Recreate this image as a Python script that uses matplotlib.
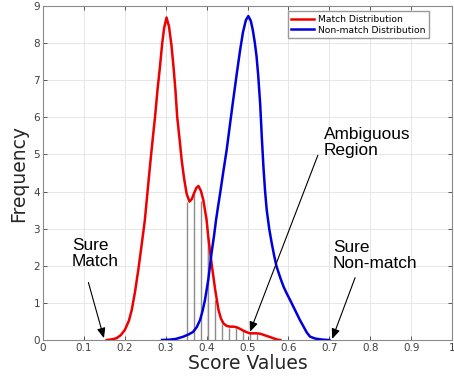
import matplotlib
matplotlib.use("Agg")
import matplotlib.pyplot as plt

# ---------------------------------------------------------------------------
# data
# ---------------------------------------------------------------------------
match_x = [0.156, 0.17, 0.18, 0.19, 0.20, 0.21, 0.217, 0.225, 0.233, 0.241, 0.249,
           0.256, 0.263, 0.269, 0.274, 0.280, 0.286, 0.291, 0.296, 0.302, 0.308,
           0.314, 0.319, 0.324, 0.328, 0.334, 0.339, 0.345, 0.351, 0.358, 0.364,
           0.369, 0.375, 0.380, 0.386, 0.392, 0.396, 0.400, 0.404, 0.412, 0.421,
           0.429, 0.435, 0.441, 0.449, 0.457, 0.466, 0.474, 0.482, 0.490, 0.498,
           0.506, 0.514, 0.522, 0.531, 0.539, 0.547, 0.555, 0.565, 0.573, 0.58]
match_y = [0.0, 0.02, 0.05, 0.13, 0.27, 0.52, 0.81, 1.3, 1.89, 2.55, 3.23,
           4.05, 4.85, 5.5, 6.02, 6.75, 7.37, 7.95, 8.4, 8.69, 8.45,
           7.95, 7.37, 6.7, 6.02, 5.4, 4.85, 4.35, 3.95, 3.73, 3.8,
           3.95, 4.1, 4.15, 4.02, 3.77, 3.5, 3.23, 2.78, 2.07, 1.35,
           0.81, 0.58, 0.45, 0.38, 0.36, 0.36, 0.34, 0.3, 0.25, 0.21,
           0.18, 0.18, 0.18, 0.17, 0.14, 0.11, 0.08, 0.04, 0.01, 0.0]

nonmatch_x = [0.291, 0.31, 0.325, 0.343, 0.356, 0.367, 0.376, 0.384, 0.39, 0.396,
              0.404, 0.412, 0.418, 0.423, 0.428, 0.433, 0.441, 0.449, 0.457,
              0.465, 0.474, 0.482, 0.489, 0.496, 0.502, 0.508, 0.513, 0.518,
              0.522, 0.526, 0.531, 0.535, 0.539, 0.543, 0.547, 0.553, 0.559,
              0.565, 0.571, 0.58, 0.588, 0.596, 0.604, 0.612, 0.62, 0.628,
              0.637, 0.645, 0.653, 0.665, 0.677, 0.69, 0.70]
nonmatch_y = [0.0, 0.01, 0.03, 0.09, 0.15, 0.22, 0.35, 0.54, 0.78, 1.08,
              1.62, 2.34, 2.8, 3.23, 3.6, 3.95, 4.55, 5.12, 5.8,
              6.47, 7.2, 7.82, 8.3, 8.62, 8.73, 8.6, 8.35, 8.0,
              7.65, 7.15, 6.35, 5.45, 4.65, 4.0, 3.5, 3.0, 2.62,
              2.28, 1.98, 1.68, 1.44, 1.25, 1.08, 0.9, 0.72, 0.54,
              0.36, 0.2, 0.09, 0.04, 0.02, 0.005, 0.0]

# vertical hatching under the match curve (ambiguous region)
stem_x = [0.353, 0.370, 0.387, 0.404, 0.421, 0.438, 0.455, 0.472, 0.489, 0.506, 0.523]
stem_y = [3.73, 3.95, 3.75, 2.78, 1.08, 0.43, 0.33, 0.33, 0.27, 0.2, 0.15]

x_ticks = [0, 0.1, 0.2, 0.3, 0.4, 0.5, 0.6, 0.7, 0.8, 0.9, 1]
x_tick_labels = ["0", "0.1", "0.2", "0.3", "0.4", "0.5", "0.6", "0.7", "0.8", "0.9", "1"]
y_ticks = list(range(0, 10))

# (text, text position, arrow tip)
annotations = [
    ("Sure\nMatch", (0.071, 2.75), (0.149, 0.05)),
    ("Ambiguous\nRegion", (0.687, 5.74), (0.506, 0.22)),
    ("Sure\nNon-match", (0.709, 2.7), (0.707, 0.03)),
]
arrow_starts = [(0.111, 1.55), (0.672, 4.98), (0.763, 1.68)]

# ---------------------------------------------------------------------------
fig = plt.figure(figsize=(4.54, 3.78), dpi=100)
ax = fig.add_axes([0.0947, 0.1005, 0.901, 0.8835])

ax.vlines(stem_x, 0, stem_y, color="#8c8c8c", lw=1.0, zorder=2)
ax.plot(match_x, match_y, color="#ee0000", lw=1.8, label="Match Distribution", zorder=3)
ax.plot(nonmatch_x, nonmatch_y, color="#0000dd", lw=1.8, label="Non-match Distribution", zorder=3)

for (txt, pos, tip), start in zip(annotations, arrow_starts):
    ax.text(pos[0], pos[1], txt, ha="left", va="top", fontsize=12.4,
            family="Liberation Sans", color="black", linespacing=1.12)
    ax.annotate("", xy=tip, xytext=start,
                arrowprops=dict(arrowstyle="-|>,head_length=0.6,head_width=0.25",
                                color="black", lw=0.8, shrinkA=0, shrinkB=0))

ax.set_xlim(0, 1)
ax.set_ylim(0, 9)
ax.set_xticks(x_ticks)
ax.set_xticklabels(x_tick_labels)
ax.set_yticks(y_ticks)
ax.tick_params(direction="in", length=3, labelsize=7.5, colors="#404040",
               width=0.6, pad=2, top=True, right=True)
ax.grid(True, color="#e6e6e6", lw=0.7)
ax.set_axisbelow(True)
for side in ("left", "bottom", "top", "right"):
    ax.spines[side].set_color("#8a8a8a")
    ax.spines[side].set_linewidth(0.8)

ax.set_xlabel("Score Values", fontsize=13.5, color="#262626", labelpad=1)
ax.set_ylabel("Frequency", fontsize=13.5, color="#262626", labelpad=4)

ax.legend(loc="upper right", bbox_to_anchor=(0.944, 0.985), borderaxespad=0,
          fontsize=6.6, frameon=True, fancybox=False, edgecolor="#999999",
          framealpha=1, handlelength=2.5, borderpad=0.4, labelspacing=0.2,
          handletextpad=0.4)

fig.savefig("out.png", dpi=100)
